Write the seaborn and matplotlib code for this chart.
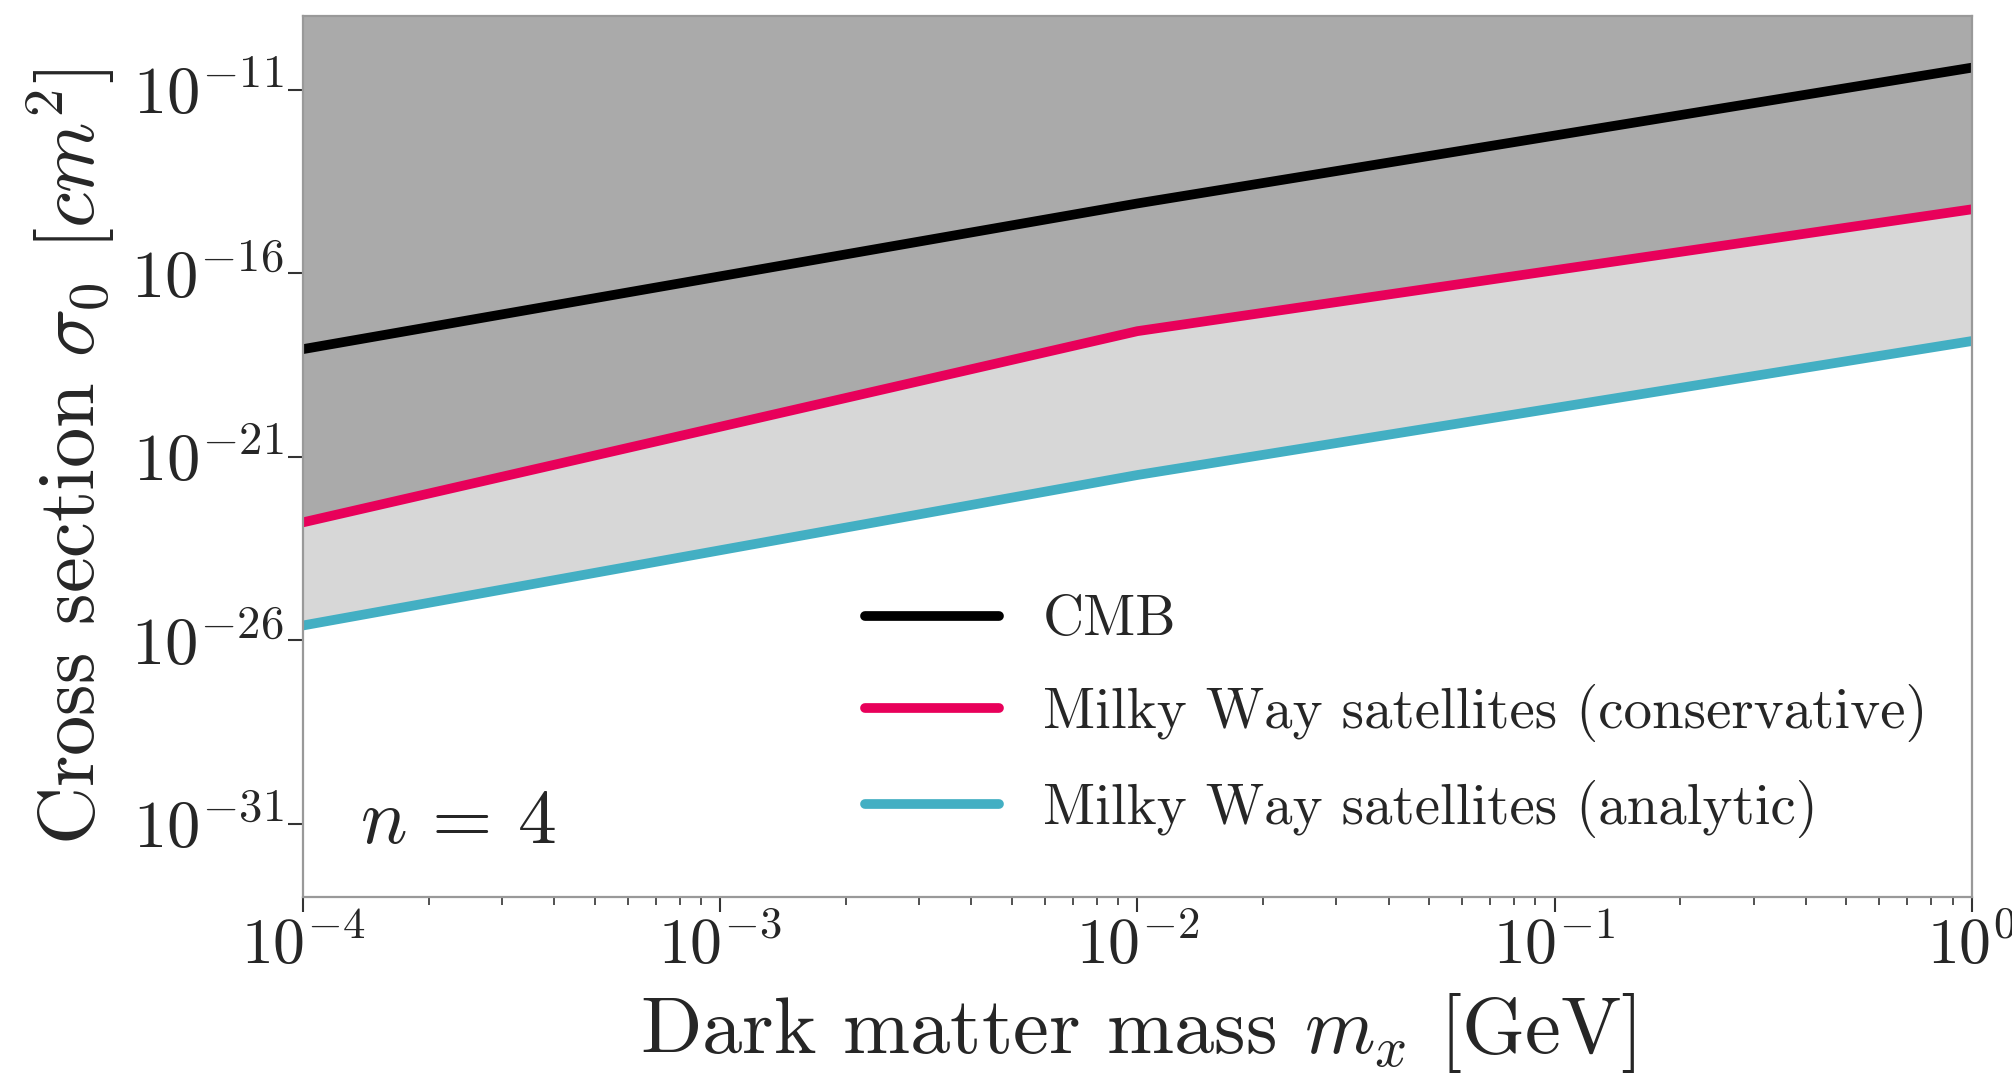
import numpy as np
import pandas as pd
import matplotlib
matplotlib.use("Agg")
import matplotlib.pyplot as plt
import seaborn as sns
from matplotlib.ticker import FixedLocator, LogLocator, LogFormatterSciNotation, NullFormatter

# Dark matter mass grid [GeV]
mass = [1e-4, 1e-2, 1e0]

# Upper limits on the cross section sigma_0 [cm^2] (log10 values)
log_cmb = [-18.07, -14.1, -10.4]
log_mw_conservative = [-22.79, -17.58, -14.26]
log_mw_analytic = [-25.6, -21.5, -17.85]

labels = ["CMB",
          "Milky Way satellites (conservative)",
          "Milky Way satellites (analytic)"]
colors = ["#000000", "#E8005A", "#43AFC3"]

y_ticks = [1e-31, 1e-26, 1e-21, 1e-16, 1e-11]

sns.set_theme(style="white")
plt.rcParams.update({
    "font.family": "serif",
    "font.serif": ["cmr10", "DejaVu Serif"],
    "mathtext.fontset": "cm",
    "axes.formatter.use_mathtext": True,
    "axes.unicode_minus": True,
})

cmb = 10.0 ** np.array(log_cmb)
cons = 10.0 ** np.array(log_mw_conservative)
anal = 10.0 ** np.array(log_mw_analytic)

df = pd.DataFrame({
    "mass": mass * 3,
    "sigma": np.concatenate([cmb, cons, anal]),
    "bound": sum([[l] * len(mass) for l in labels], []),
})

fig = plt.figure(figsize=(20.12, 10.86), dpi=100)
ax = fig.add_axes([0.1506, 0.174, 0.8294, 0.811])
ax.set_xscale("log")
ax.set_yscale("log")
ax.set_xlim(1e-4, 1e0)
ax.set_ylim(1e-33, 1e-9)

# Excluded regions
ax.fill_between(mass, cons, 1e-9, color="#AAAAAA", linewidth=0, zorder=1)
ax.fill_between(mass, anal, cons, color="#D7D7D7", linewidth=0, zorder=1)

sns.lineplot(data=df, x="mass", y="sigma", hue="bound", palette=colors,
             hue_order=labels, linewidth=7, ax=ax, zorder=3,
             estimator=None, sort=False)

ax.set_xlabel(r"Dark matter mass $m_x$ [GeV]", fontsize=58, labelpad=10)
ax.set_ylabel(r"Cross section $\sigma_0$ $[cm^2]$", fontsize=58, labelpad=10)

ax.yaxis.set_major_locator(FixedLocator(y_ticks))
ax.yaxis.set_minor_locator(FixedLocator([]))
ax.yaxis.set_major_formatter(LogFormatterSciNotation())
ax.xaxis.set_major_locator(LogLocator(base=10, numticks=10))
ax.xaxis.set_minor_locator(LogLocator(base=10, subs=np.arange(2, 10), numticks=50))
ax.xaxis.set_minor_formatter(NullFormatter())

ax.tick_params(axis="both", which="major", direction="out", length=11, width=1.5,
               color="#333333", labelsize=46, pad=3,
               bottom=True, left=True, top=False, right=False)
ax.tick_params(axis="y", which="major", labelsize=48)
ax.tick_params(axis="x", which="minor", direction="out", length=6, width=1.2,
               color="#333333", bottom=True, top=False)

for side in ["top", "right", "bottom", "left"]:
    ax.spines[side].set_color("#999999")
    ax.spines[side].set_linewidth(1.6)
    ax.spines[side].set_zorder(5)

ax.text(0.034, 0.061, r"$n\,=\,4$", transform=ax.transAxes, fontsize=56,
        ha="left", va="baseline")

ax.legend(loc="center left", bbox_to_anchor=(0.337, 0.205), frameon=False,
          fontsize=41, handlelength=2.34, handletextpad=0.78, labelspacing=0.66,
          borderpad=0, borderaxespad=0)

fig.savefig("out.png", dpi=100)
